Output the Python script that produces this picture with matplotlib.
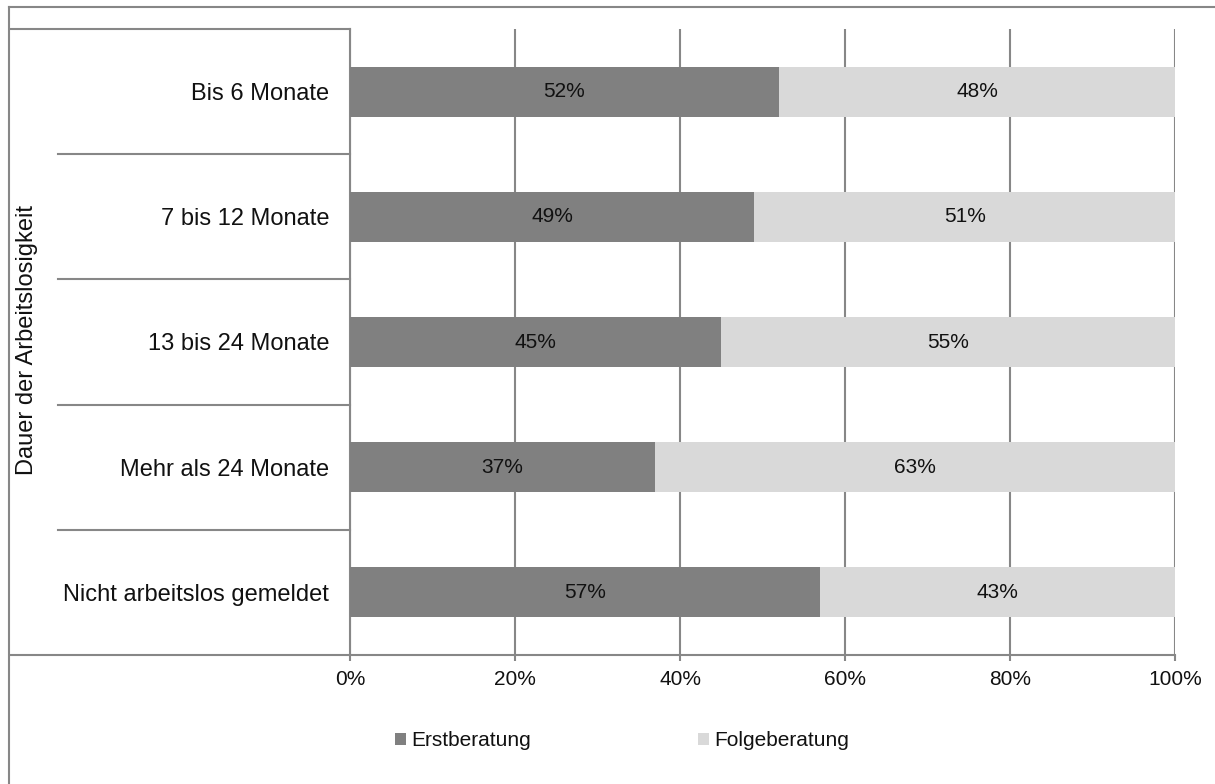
import matplotlib
matplotlib.use("Agg")
import matplotlib.pyplot as plt
from matplotlib.lines import Line2D
from matplotlib.patches import Patch
from matplotlib.transforms import blended_transform_factory

plt.rcParams['font.family'] = ['Liberation Sans', 'DejaVu Sans']

# Data
categories = ["Bis 6 Monate", "7 bis 12 Monate", "13 bis 24 Monate",
              "Mehr als 24 Monate", "Nicht arbeitslos gemeldet"]
erstberatung = [52, 49, 45, 37, 57]
folgeberatung = [48, 51, 55, 63, 43]
series_names = ["Erstberatung", "Folgeberatung"]
x_ticks = [0, 20, 40, 60, 80, 100]
axis_title = "Dauer der Arbeitslosigkeit"

W, H = 1215, 784
DARK = "#808080"
LIGHT = "#D9D9D9"
LINE = "#878787"

fig = plt.figure(figsize=(W / 100, H / 100), dpi=100)
fig.patch.set_facecolor("white")

# plot area in pixels: x 350..1175, y 29..655
ax = fig.add_axes([350 / W, (H - 655) / H, 825 / W, (655 - 29) / H])

y = list(range(len(categories)))
b1 = ax.barh(y, erstberatung, height=0.4, color=DARK, zorder=3)
b2 = ax.barh(y, folgeberatung, left=erstberatung, height=0.4, color=LIGHT, zorder=3)
ax.bar_label(b1, labels=[f"{v}%" for v in erstberatung], label_type="center",
             fontsize=15, color="#111111")
ax.bar_label(b2, labels=[f"{v}%" for v in folgeberatung], label_type="center",
             fontsize=15, color="#111111")

ax.set_xlim(0, 100)
ax.set_ylim(len(categories) - 0.5, -0.5)

ax.set_xticks(x_ticks)
ax.set_xticklabels([f"{t}%" for t in x_ticks], fontsize=15, color="#111111")
ax.tick_params(axis="x", direction="out", length=4.5, width=1.5, color=LINE, pad=6)
ax.set_yticks(y)
ax.set_yticklabels(categories, fontsize=17, color="#111111")
ax.tick_params(axis="y", length=0, pad=15)

ax.grid(axis="x", color=LINE, linewidth=1.5, zorder=0)
ax.set_axisbelow(True)
for side in ("top", "right"):
    ax.spines[side].set_visible(False)
for side in ("left", "bottom"):
    ax.spines[side].set_color(LINE)
    ax.spines[side].set_linewidth(1.5)

# category separators on the left of the axis
tr = blended_transform_factory(ax.transAxes, ax.transData)
inner_x = (58 - 350) / 825
outer_x = (10 - 350) / 825
for b in [0.5, 1.5, 2.5, 3.5]:
    ax.add_line(Line2D([inner_x, 0], [b, b], transform=tr, color=LINE,
                       linewidth=1.5, clip_on=False))
for b in [-0.5, len(categories) - 0.5]:
    ax.add_line(Line2D([outer_x, 0], [b, b], transform=tr, color=LINE,
                       linewidth=1.5, clip_on=False))

# outer frame (top and left edges)
fig.add_artist(Line2D([9 / W, 1.0], [(H - 7) / H, (H - 7) / H],
                      transform=fig.transFigure, color=LINE, linewidth=1.5))
fig.add_artist(Line2D([9 / W, 9 / W], [0, (H - 7) / H],
                      transform=fig.transFigure, color=LINE, linewidth=1.5))

# axis title
fig.text(27 / W, (H - 340) / H, axis_title, rotation=90, fontsize=17,
         ha="center", va="center", color="#111111")

# legend
handles = [Patch(facecolor=DARK, edgecolor="none"),
           Patch(facecolor=LIGHT, edgecolor="none")]
fig.legend(handles, series_names, loc="center",
           bbox_to_anchor=(622 / W, (H - 741) / H), ncol=2, frameon=False,
           fontsize=15, handlelength=0.55, handleheight=0.55,
           handletextpad=0.25, columnspacing=8.0, labelcolor="#111111")

fig.savefig("out.png", dpi=100)
